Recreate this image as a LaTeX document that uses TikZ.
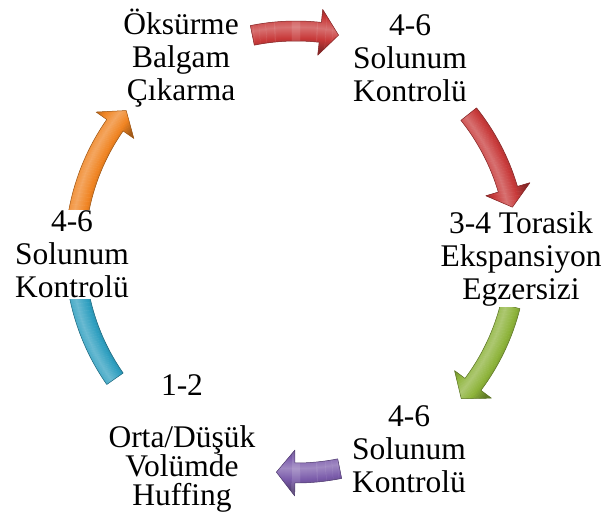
\documentclass[tikz,border=0pt]{standalone}
\usepackage{fontspec}
\setmainfont{Liberation Serif}
\newfontfamily\lblserif{LiberationSerif}
\definecolor{cycRed}{HTML}{C83A3A}
\definecolor{cycGreen}{HTML}{8DB33A}
\definecolor{cycPurple}{HTML}{7B5CAB}
\definecolor{cycAqua}{HTML}{2E9FC0}
\definecolor{cycOrange}{HTML}{F08422}

% radii of the ring on which the block arrows sit
\def\rmid{221}
\def\rout{231}
\def\rin{211}
\def\rheadout{244}
\def\rheadin{198}

% outline of one curved block arrow: tail angle, head-base angle, tip angle
\newcommand\arrowoutline[3]{(#1:\rout) arc[start angle=#1, end angle=#2, radius=\rout]
  -- (#2:\rheadout) -- (#3:\rmid) -- (#2:\rheadin) -- (#2:\rin)
  arc[start angle=#2, end angle=#1, radius=\rin] -- cycle}

% colour, tail, head base, tip, offset of the highlight from the mid radius
\newcommand\cyclearrow[5]{%
  \begin{scope}[shift={(C)}]
    \begin{scope}
      \clip \arrowoutline{#2}{#3}{#4};
      \foreach \s in {-25,-24,...,25}{%
        \pgfmathsetmacro\t{min(1,abs(\s-(#5))/22)}%
        \pgfmathsetmacro\rr{\rmid+\s}%
        \ifdim\t pt<0.5pt
          \pgfmathsetmacro\m{72+56*\t}%
          \draw[line width=1.4pt, color=#1!\m!white] (0,0) circle[radius=\rr];
        \else
          \pgfmathsetmacro\m{100-64*(\t-0.5)}%
          \draw[line width=1.4pt, color=#1!\m!black] (0,0) circle[radius=\rr];
        \fi
      }
    \end{scope}
    \draw[#1!65!black, line width=0.5pt, line join=round] \arrowoutline{#2}{#3}{#4};
  \end{scope}}

\begin{document}
\begin{tikzpicture}[x=1pt, y=-1pt,
  lbl/.style={align=center, inner sep=1pt, fill=white,
    font=\lblserif\fontsize{31.5pt}{33pt}\selectfont}]
\useasboundingbox (0,0) rectangle (604,518);
\coordinate (C) at (296,252);

% block arrows of the cycle (clockwise)
\cyclearrow{cycRed}{-101.4}{-83.7}{-78.9}{4}
\cyclearrow{cycRed}{-38.6}{-16.5}{-11.7}{-4}
\cyclearrow{cycGreen}{14.2}{36.8}{41.6}{-4}
\cyclearrow{cycPurple}{78.6}{90.3}{95.1}{-4}
\cyclearrow{cycAqua}{145}{178}{182.8}{4}
\cyclearrow{cycOrange}{186}{215}{219.8}{4}

% step labels
\node[lbl] (cough) at (181,58) {Öksürme\\Balgam\\Çıkarma};
\node[lbl] (breathA) at (410,58.5) {4-6\\Solunum\\Kontrolü};
\node[lbl] (thorax) at (521,258.5) {3-4 Torasik\\Ekspansiyon\\Egzersizi};
\node[lbl] (breathB) at (409,449.5) {4-6\\Solunum\\Kontrolü};
\node[lbl, fill=none, font=\lblserif\fontsize{31.5pt}{29pt}\selectfont] (huff) at (182,443)
  {1-2\\[23pt]Orta/Düşük\\Volümde\\Huffing};
\node[lbl] (breathC) at (72,254.5) {4-6\\Solunum\\Kontrolü};
\end{tikzpicture}
\end{document}
